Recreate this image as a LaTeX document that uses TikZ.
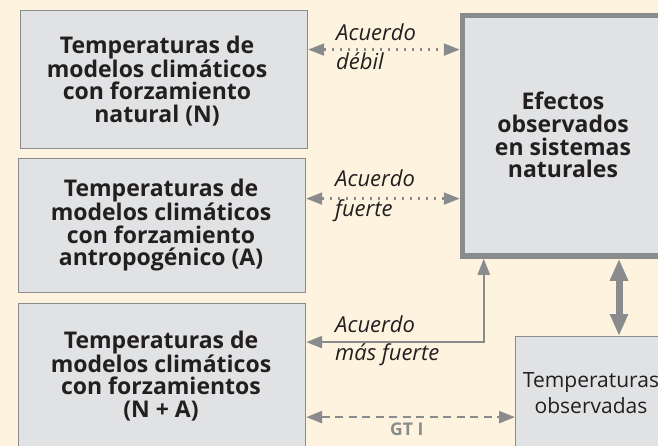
\documentclass[tikz,border=0pt]{standalone}
\usepackage{fontspec}
\setmainfont{Open Sans}
\usetikzlibrary{arrows.meta}
\definecolor{bg}{HTML}{FEF3DF}
\definecolor{boxfill}{HTML}{E1E2E4}
\definecolor{edge}{HTML}{8A8B8D}
\definecolor{ink}{HTML}{231F20}
\begin{document}
\begin{tikzpicture}[x=1pt,y=-1pt,
  box/.style={draw=edge, line width=1.2pt, fill=boxfill, inner sep=0pt, anchor=north west},
  bigbox/.style={draw=edge, line width=5.5pt, fill=boxfill, inner sep=0pt, anchor=north west},
  boxtext/.style={font=\fontsize{23}{22.7}\selectfont\bfseries, text=ink, align=center, inner sep=0pt},
  obstext/.style={font=\fontsize{21}{26}\selectfont, text=ink, align=center, inner sep=0pt},
  lbl/.style={font=\fontsize{22}{26}\selectfont\itshape, text=ink, anchor=base west, inner sep=0pt},
  gtlbl/.style={font=\fontsize{17.5}{18}\selectfont\bfseries, text=edge, anchor=base west, inner sep=0pt},
  thintip/.style={{Triangle[length=16pt,width=12pt]}-{Triangle[length=16pt,width=12pt]}},
  dotline/.style={draw=edge, line width=2.2pt, dash pattern=on 2.2pt off 5.8pt, thintip},
  dashline/.style={draw=edge, line width=2.4pt, dash pattern=on 8pt off 5.5pt, thintip},
  solidline/.style={draw=edge, line width=2.4pt, thintip},
  thickline/.style={draw=edge, line width=7pt, {Triangle[length=22pt,width=17pt]}-{Triangle[length=22pt,width=17pt]}}
]
\useasboundingbox (0,0) rectangle (658,446);
\fill[bg] (0,0) rectangle (658,446);

% boxes
\node[box, minimum width=287pt, minimum height=138pt] (bN) at (20,10) {};
\node[box, minimum width=287pt, minimum height=134pt] (bA) at (18,158) {};
\node[box, minimum width=287pt, minimum height=160pt] (bNA) at (18,303) {};
\node[bigbox, minimum width=215pt, minimum height=240.5pt] (bE) at (459.75,12.75) {};
\node[box, minimum width=160pt, minimum height=130pt] (bO) at (515,336) {};

% box texts
\node[boxtext] (tN) at (157,81) {Temperaturas de\\modelos climáticos\\con forzamiento\\natural (N)};
\node[boxtext] (tA) at (161,225) {Temperaturas de\\modelos climáticos\\con forzamiento\\antropogénico (A)};
\node[boxtext] (tNA) at (161,376) {Temperaturas de\\modelos climáticos\\con forzamientos\\(N + A)};
\node[boxtext] (tE) at (563,135) {Efectos\\observados\\en sistemas\\naturales};
\node[obstext] (tO) at (591,393) {Temperaturas\\observadas};

% connectors
\draw[dotline] ([yshift=30pt]bN.east) -- ([yshift=30pt]bN.east -| bE.west);
\draw[dotline] ([yshift=27pt]bA.east) -- ([yshift=27pt]bA.east -| bE.west);
\draw[solidline] ([yshift=41.5pt]bNA.east) -| ([xshift=24pt]bE.south west);
\draw[dashline] ([yshift=-33.5pt]bNA.east) -- ([yshift=-33.5pt]bNA.east -| bO.west);
\draw[thickline] ([xshift=104pt]bO.north west) -- ([xshift=104pt]bO.north west |- bE.south);

% labels
\node[lbl] (l1a) at (336,41) {Acuerdo};
\node[lbl] (l1b) at (336,70) {débil};
\node[lbl] (l2a) at (335,187) {Acuerdo};
\node[lbl] (l2b) at (335,217) {fuerte};
\node[lbl] (l3a) at (335,332) {Acuerdo};
\node[lbl] (l3b) at (335,360) {más fuerte};
\node[gtlbl] (gt) at (390,435) {GT I};
\end{tikzpicture}
\end{document}
